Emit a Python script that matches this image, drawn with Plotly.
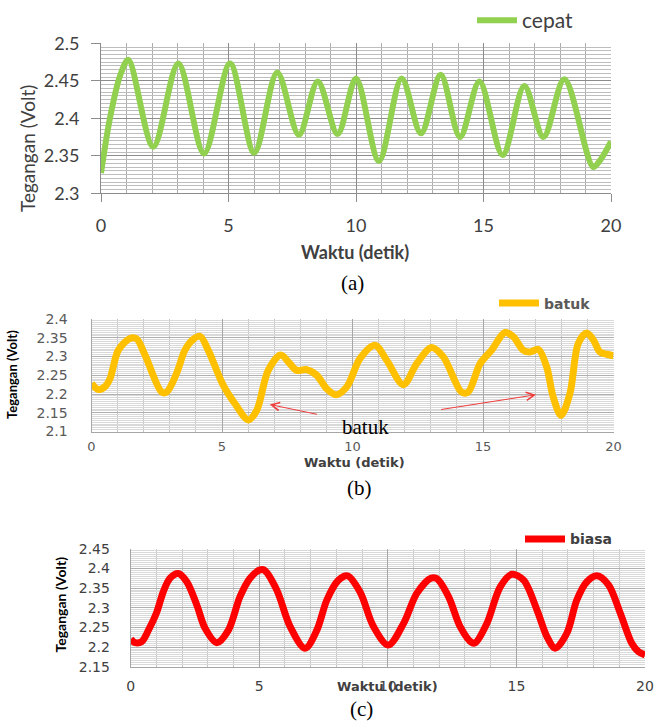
import plotly.graph_objects as go

W, H = 667, 721

# ---------------- data ----------------
cepat_t = [0, 0.35, 0.75, 1.07, 2.05, 3.03, 4.04, 5.06, 6.01, 6.91, 7.76, 8.5, 9.28,
           10.0, 10.9, 11.79, 12.55, 13.32, 14.08, 14.84, 15.75, 16.6, 17.35, 18.17,
           19.3, 19.57, 20]
cepat_v = [2.327, 2.40, 2.457, 2.478, 2.362, 2.473, 2.353, 2.473, 2.354, 2.461, 2.378,
           2.449, 2.379, 2.453, 2.343, 2.453, 2.380, 2.458, 2.375, 2.449, 2.351, 2.443,
           2.375, 2.452, 2.335, 2.344, 2.369]

batuk_t = [0, 0.26, 0.52, 0.71, 1.03, 1.47, 1.73, 2.05, 2.69, 2.88, 3.26, 3.58, 3.9,
           4.16, 4.47, 5.05, 5.5, 6.01, 6.33, 6.77, 7.25, 7.6, 7.86, 8.24, 8.63, 9.01,
           9.37, 9.78, 10.29, 10.86, 11.31, 11.95, 12.46, 13.03, 13.48, 14.18, 14.43,
           14.89, 15.33, 15.84, 16.16, 16.54, 16.8, 17.12, 17.44, 17.69, 17.99, 18.33,
           18.65, 18.97, 19.23, 19.48, 19.74, 20]
batuk_v = [2.228, 2.212, 2.220, 2.241, 2.317, 2.348, 2.347, 2.304, 2.205, 2.205, 2.255,
           2.317, 2.346, 2.354, 2.317, 2.223, 2.174, 2.131, 2.156, 2.263, 2.304, 2.281,
           2.263, 2.265, 2.250, 2.214, 2.198, 2.219, 2.295, 2.330, 2.290, 2.225, 2.281,
           2.324, 2.299, 2.205, 2.205, 2.281, 2.317, 2.364, 2.353, 2.317, 2.312, 2.319,
           2.272, 2.192, 2.143, 2.201, 2.335, 2.363, 2.344, 2.312, 2.306, 2.302]

biasa_t = [0, 0.17, 0.43, 0.69, 1.01, 1.27, 1.53, 1.85, 2.18, 2.57, 2.89, 3.35, 3.8,
           4.25, 4.64, 5.03, 5.2, 5.68, 6.2, 6.78, 7.24, 7.63, 8.08, 8.43, 8.92, 9.44,
           10.02, 10.61, 11.13, 11.67, 11.9, 12.36, 12.81, 13.27, 13.4, 13.85, 14.37,
           14.82, 15.28, 15.8, 16.19, 16.51, 16.96, 17.35, 17.74, 18.13, 18.58, 19.04,
           19.49, 19.75, 20]
biasa_v = [2.220, 2.211, 2.214, 2.243, 2.288, 2.341, 2.375, 2.387, 2.366, 2.307, 2.248,
           2.211, 2.243, 2.328, 2.375, 2.396, 2.395, 2.345, 2.252, 2.197, 2.243, 2.320,
           2.370, 2.381, 2.340, 2.252, 2.205, 2.260, 2.337, 2.375, 2.374, 2.328, 2.252,
           2.211, 2.211, 2.260, 2.353, 2.385, 2.370, 2.294, 2.226, 2.197, 2.235, 2.320,
           2.366, 2.381, 2.358, 2.286, 2.209, 2.188, 2.180]

x_ticks = [0, 5, 10, 15, 20]
series_names = ["cepat", "batuk", "biasa"]
x_title = "Waktu (detik)"
y_title = "Tegangan (Volt)"
captions = ["(a)", "(b)", "(c)"]


def fx(p):
    return p / W


def fy(p):
    return 1 - p / H


fig = go.Figure()

fig.add_trace(go.Scatter(x=cepat_t, y=cepat_v, name=series_names[0], mode="lines",
                         line=dict(color="#92D050", width=6, shape="spline", smoothing=0.9),
                         xaxis="x", yaxis="y", legend="legend"))
fig.add_trace(go.Scatter(x=batuk_t, y=batuk_v, name=series_names[1], mode="lines",
                         line=dict(color="#FFC000", width=7, shape="spline", smoothing=0.9),
                         xaxis="x2", yaxis="y2", legend="legend2"))
fig.add_trace(go.Scatter(x=biasa_t, y=biasa_v, name=series_names[2], mode="lines",
                         line=dict(color="#FF0000", width=7, shape="spline", smoothing=0.9),
                         xaxis="x3", yaxis="y3", legend="legend3"))

fa = "Lato"
fb = "DejaVu Sans"

common = dict(automargin=False, zeroline=False, showgrid=True)

fig.update_layout(
    template="none",
    # panel a axes
    xaxis=dict(domain=[fx(101), fx(611)], range=[0, 20], tickvals=x_ticks,
               gridcolor="#8c8c8c", gridwidth=1,
               minor=dict(dtick=1, showgrid=True, gridcolor="#adadad", ticks=""),
               ticks="outside", ticklen=8, tickcolor="#8c8c8c",
               showline=True, linecolor="#8c8c8c", anchor="y",
               tickfont=dict(family=fa, size=18, color="#404040"), ticklabelstandoff=8,
               **common),
    yaxis=dict(domain=[fy(193.3), fy(43.3)], range=[2.3, 2.5], dtick=0.05,
               gridcolor="#8c8c8c",
               minor=dict(dtick=0.005, showgrid=True, gridcolor="#bdbdbd", ticks=""),
               ticks="outside", ticklen=9, tickcolor="#8c8c8c",
               showline=True, linecolor="#8c8c8c", anchor="x",
               tickfont=dict(family=fa, size=18, color="#404040"), ticklabelstandoff=8,
               **common),
    # panel b axes
    xaxis2=dict(domain=[fx(91.5), fx(613.5)], range=[0, 20], tickvals=x_ticks,
                gridcolor="#a6a6a6",
                minor=dict(dtick=1, showgrid=True, gridcolor="#c4c4c4", ticks=""),
                ticks="", showline=True, linecolor="#a6a6a6", anchor="y2",
                tickfont=dict(family=fb, size=13, color="#595959"), ticklabelstandoff=3,
                **common),
    yaxis2=dict(domain=[fy(431.5), fy(319)], range=[2.1, 2.4], dtick=0.05,
                gridcolor="#b0b0b0",
                minor=dict(dtick=0.005, showgrid=True, gridcolor="#d9d9d9", ticks=""),
                ticks="", showline=True, linecolor="#a6a6a6", anchor="x2",
                tickfont=dict(family=fb, size=14, color="#595959"), ticklabelstandoff=20,
                **common),
    # panel c axes
    xaxis3=dict(domain=[fx(130.7), fx(645)], range=[0, 20], tickvals=x_ticks,
                gridcolor="#a6a6a6",
                minor=dict(dtick=1, showgrid=True, gridcolor="#c4c4c4", ticks=""),
                ticks="", showline=True, linecolor="#a6a6a6", anchor="y3",
                tickfont=dict(family=fb, size=14, color="#404040"), ticklabelstandoff=6,
                **common),
    yaxis3=dict(domain=[fy(666.7), fy(548.7)], range=[2.15, 2.45], dtick=0.05,
                gridcolor="#b0b0b0",
                minor=dict(dtick=0.005, showgrid=True, gridcolor="#d9d9d9", ticks=""),
                ticks="", showline=True, linecolor="#a6a6a6", anchor="x3",
                tickfont=dict(family=fb, size=14, color="#404040"), ticklabelstandoff=17,
                **common),
)

leg_common = dict(bgcolor="rgba(0,0,0,0)", borderwidth=0, xanchor="left", yanchor="middle",
                  itemwidth=40, tracegroupgap=0)
fig.update_layout(
    showlegend=True,
    legend=dict(x=fx(472), y=fy(20.5), font=dict(family=fa, size=21, color="#404040"),
                **leg_common),
    legend2=dict(x=fx(494), y=fy(303.5), font=dict(family=fb, size=14, color="#595959",
                                                  weight="bold"), **leg_common),
    legend3=dict(x=fx(520), y=fy(539.3), font=dict(family=fb, size=14, color="#404040",
                                                  weight="bold"), **leg_common),
)

cm = dict(xanchor="center", yanchor="middle", showarrow=False, xref="paper", yref="paper")
ann = []
# axis titles
ann.append(dict(text=x_title, x=fx(355), y=fy(252),
                font=dict(family=fa, size=18, color="#404040", weight="bold"), **cm))
ann.append(dict(text=y_title, x=fx(27), y=fy(149), textangle=-90,
                font=dict(family=fa, size=19, color="#404040"), **cm))
ann.append(dict(text=x_title, x=fx(354), y=fy(462),
                font=dict(family=fb, size=13, color="#404040", weight="bold"), **cm))
ann.append(dict(text=y_title, x=fx(12), y=fy(375), textangle=-90,
                font=dict(family=fa, size=13, color="#000000", weight="bold"), **cm))
ann.append(dict(text=x_title, x=fx(387), y=fy(686),
                font=dict(family=fb, size=13, color="#404040", weight="bold"), **cm))
ann.append(dict(text=y_title, x=fx(59.5), y=fy(605), textangle=-90,
                font=dict(family=fa, size=14, color="#000000", weight="bold"), **cm))
# captions
for cap, (cx, cy) in zip(captions, [(352, 283), (359, 488), (361, 709)]):
    ann.append(dict(text=cap, x=fx(cx), y=fy(cy),
                    font=dict(family="Liberation Serif", size=21, color="#000000"), **cm))
# cough annotation in panel b
ann.append(dict(text="batuk", x=10.5, y=2.112, xref="x2", yref="y2", showarrow=False,
                xanchor="center", yanchor="middle",
                font=dict(family="Liberation Serif", size=21, color="#000000")))
for (hx, hy, tx, ty) in [(6.83, 2.172, 8.70, 2.145), (17.03, 2.198, 13.34, 2.158)]:
    ann.append(dict(text="", x=hx, y=hy, ax=tx, ay=ty, xref="x2", yref="y2",
                    axref="x2", ayref="y2", showarrow=True, arrowhead=5, arrowsize=1.6,
                    arrowwidth=1, arrowcolor="#f03c3c"))

fig.update_layout(annotations=ann, width=W, height=H,
                  margin=dict(l=0, r=0, t=0, b=0, autoexpand=False),
                  paper_bgcolor="white", plot_bgcolor="white")

fig.write_html("out.html", config={"displayModeBar": False},
               post_script="document.body.style.margin='0px';")
